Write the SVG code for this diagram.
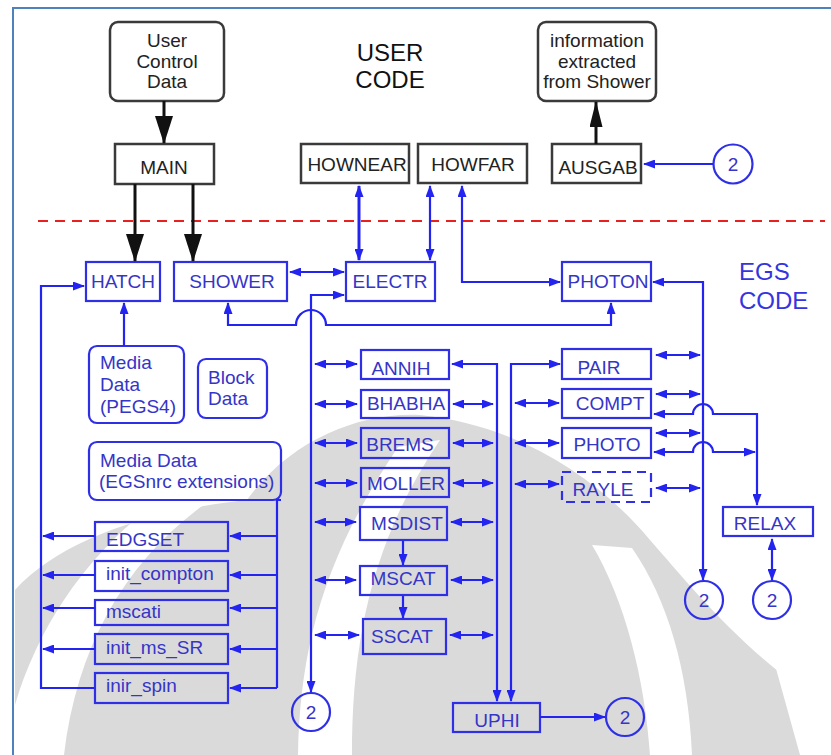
<svg xmlns="http://www.w3.org/2000/svg" width="831" height="755" viewBox="0 0 831 755">
<style>
  text { font-family: "Liberation Sans", Arial, sans-serif; font-size: 19px; }
  .kbox { fill: #fff; stroke: #3a3a3a; stroke-width: 2.5; }
  .ktxt { fill: #222; }
  .bbox { fill: none; stroke: #2f2fe6; stroke-width: 2.2; }
  .btxt { fill: #3535c8; }
  .mid { text-anchor: middle; }
  .ln { fill: none; stroke: #2424f0; stroke-width: 2.2; }
  .arr { marker-end: url(#ba); }
  .dbl { marker-start: url(#ba); marker-end: url(#ba); }
  .kln { fill: none; stroke: #111; stroke-width: 3; }
  .wm { fill: #dadada; }
  .wmw { fill: #fff; }
</style>
<defs>
  <marker id="ba" markerUnits="userSpaceOnUse" markerWidth="12" markerHeight="9" refX="11" refY="4.5" orient="auto-start-reverse">
    <path d="M0,0 L12,4.5 L0,9 z" fill="#2424f0"/>
  </marker>
  <marker id="ka" markerUnits="userSpaceOnUse" markerWidth="28" markerHeight="18" refX="27" refY="9" orient="auto">
    <path d="M0,0 L28,9 L0,18 z" fill="#111"/>
  </marker>
  <marker id="ka2" markerUnits="userSpaceOnUse" markerWidth="26" markerHeight="13" refX="25" refY="6.5" orient="auto">
    <path d="M0,0 L26,6.5 L0,13 z" fill="#111"/>
  </marker>
</defs>
<rect width="831" height="755" fill="#fff"/>
<!-- background watermark (approximate) -->
<g id="watermark">
  <path class="wm" d="M15,590 C60,540 150,510 247,500 C290,440 360,412 420,415 C520,425 600,480 650,540 C690,585 740,650 831,710 L831,755 L15,755 Z"/>
  <path class="wmw" d="M15,705 C40,620 95,540 185,482 L222,492 C130,552 78,640 64,755 L15,755 Z"/>
  <path class="wmw" d="M298,755 C300,650 322,560 398,447 L440,440 C372,540 352,640 352,755 Z"/>
  <path class="wmw" d="M592,545 C625,600 645,680 650,755 L692,755 C688,670 668,600 632,548 Z"/>
  <path class="wmw" d="M775,665 C800,690 820,700 831,705 L831,755 L800,755 Z"/>
</g>
<!-- frame -->
<path d="M13,755 V8 H831" fill="none" stroke="#4f81bd" stroke-width="2"/>
<!-- titles -->
<g id="user-code-title">
  <text x="390" y="61" class="mid" style="font-size:24px" fill="#111">USER</text>
  <text x="390" y="88" class="mid" style="font-size:24px" fill="#111">CODE</text>
</g>
<g id="egs-code-title">
  <text x="739" y="280" style="font-size:24px" fill="#3535e0">EGS</text>
  <text x="739" y="309" style="font-size:24px" fill="#3535e0">CODE</text>
</g>
<!-- divider -->
<line x1="38" y1="221" x2="825" y2="221" stroke="#e82020" stroke-width="2" stroke-dasharray="10 7"/>

<!-- user code nodes -->
<g id="user-control">
  <rect x="110" y="22" width="114" height="79" rx="8" class="kbox"/>
  <text x="167" y="47" class="ktxt mid">User</text>
  <text x="167" y="68" class="ktxt mid">Control</text>
  <text x="167" y="88" class="ktxt mid">Data</text>
</g>
<g id="main">
  <rect x="115" y="144" width="99" height="40" class="kbox"/>
  <text x="164" y="174" class="ktxt mid">MAIN</text>
</g>
<g id="hownear">
  <rect x="301" y="144" width="108" height="39" class="kbox"/>
  <text x="357" y="171" class="ktxt mid">HOWNEAR</text>
</g>
<g id="howfar">
  <rect x="418" y="144" width="109" height="39" class="kbox"/>
  <text x="473" y="171" class="ktxt mid">HOWFAR</text>
</g>
<g id="ausgab">
  <rect x="552" y="144" width="89" height="39" class="kbox"/>
  <text x="598" y="174" class="ktxt mid">AUSGAB</text>
</g>
<g id="info">
  <rect x="538" y="22" width="118" height="79" rx="8" class="kbox"/>
  <text x="597" y="47" class="ktxt mid">information</text>
  <text x="597" y="68" class="ktxt mid">extracted</text>
  <text x="597" y="88" class="ktxt mid">from Shower</text>
</g>

<!-- EGS nodes -->
<g id="hatch">
  <rect x="86" y="262" width="74" height="39" class="bbox"/>
  <text x="123" y="288" class="btxt mid">HATCH</text>
</g>
<g id="shower">
  <rect x="174" y="262" width="113" height="39" class="bbox"/>
  <text x="232" y="288" class="btxt mid">SHOWER</text>
</g>
<g id="electr">
  <rect x="346" y="262" width="89" height="39" class="bbox"/>
  <text x="390" y="288" class="btxt mid">ELECTR</text>
</g>
<g id="photon">
  <rect x="562" y="262" width="89" height="39" class="bbox"/>
  <text x="608" y="288" class="btxt mid">PHOTON</text>
</g>
<g id="media-pegs4">
  <rect x="89" y="346" width="95" height="77" rx="8" class="bbox"/>
  <text x="100" y="369" class="btxt">Media</text>
  <text x="100" y="391" class="btxt">Data</text>
  <text x="100" y="413" class="btxt">(PEGS4)</text>
</g>
<g id="block-data">
  <rect x="198" y="359" width="69" height="59" rx="8" class="bbox"/>
  <text x="208" y="384" class="btxt">Block</text>
  <text x="208" y="405" class="btxt">Data</text>
</g>
<g id="media-egsnrc">
  <rect x="89" y="442" width="192" height="58" rx="8" class="bbox"/>
  <text x="100" y="467" class="btxt">Media Data</text>
  <text x="99" y="488" class="btxt">(EGSnrc extensions)</text>
</g>
<g id="edgset">
  <rect x="95" y="522" width="133" height="29" class="bbox"/>
  <text x="106" y="546" class="btxt">EDGSET</text>
</g>
<g id="init-compton">
  <rect x="95" y="561" width="133" height="30" class="bbox"/>
  <text x="106" y="580" class="btxt">init_compton</text>
</g>
<g id="mscati">
  <rect x="95" y="600" width="133" height="25" class="bbox"/>
  <text x="106" y="618" class="btxt">mscati</text>
</g>
<g id="init-ms-sr">
  <rect x="95" y="634" width="133" height="30" class="bbox"/>
  <text x="106" y="654" class="btxt">init_ms_SR</text>
</g>
<g id="inir-spin">
  <rect x="95" y="673" width="133" height="30" class="bbox"/>
  <text x="106" y="692" class="btxt">inir_spin</text>
</g>
<g id="annih">
  <rect x="361" y="350" width="88" height="29" class="bbox"/>
  <text x="401" y="375" class="btxt mid">ANNIH</text>
</g>
<g id="bhabha">
  <rect x="361" y="390" width="88" height="28" class="bbox"/>
  <text x="406" y="410" class="btxt mid">BHABHA</text>
</g>
<g id="brems">
  <rect x="361" y="428" width="88" height="30" class="bbox"/>
  <text x="400" y="451" class="btxt mid">BREMS</text>
</g>
<g id="moller">
  <rect x="361" y="468" width="88" height="29" class="bbox"/>
  <text x="406" y="490" class="btxt mid">MOLLER</text>
</g>
<g id="msdist">
  <rect x="360" y="507" width="87" height="33" class="bbox"/>
  <text x="407" y="530" class="btxt mid">MSDIST</text>
</g>
<g id="mscat">
  <rect x="360" y="566" width="87" height="29" class="bbox"/>
  <text x="403" y="585" class="btxt mid">MSCAT</text>
</g>
<g id="sscat">
  <rect x="363" y="619" width="83" height="35" class="bbox"/>
  <text x="402" y="643" class="btxt mid">SSCAT</text>
</g>
<g id="uphi">
  <rect x="453" y="703" width="87" height="29" class="bbox"/>
  <text x="497" y="727" class="btxt mid">UPHI</text>
</g>
<g id="pair">
  <rect x="562" y="349" width="89" height="30" class="bbox"/>
  <text x="599" y="374" class="btxt mid">PAIR</text>
</g>
<g id="compt">
  <rect x="562" y="389" width="89" height="29" class="bbox"/>
  <text x="610" y="410" class="btxt mid">COMPT</text>
</g>
<g id="photo">
  <rect x="562" y="428" width="89" height="30" class="bbox"/>
  <text x="607" y="451" class="btxt mid">PHOTO</text>
</g>
<g id="rayle">
  <rect x="562" y="472" width="89" height="30" class="bbox" stroke-dasharray="9 6"/>
  <text x="603" y="496" class="btxt mid">RAYLE</text>
</g>
<g id="relax">
  <rect x="723" y="507" width="90" height="29" class="bbox"/>
  <text x="765" y="530" class="btxt mid">RELAX</text>
</g>
<g id="c-ausgab">
  <circle cx="733" cy="164" r="19.5" class="bbox"/>
  <text x="733" y="171" class="btxt mid">2</text>
</g>
<g id="c-electr">
  <circle cx="311" cy="712" r="19" class="bbox"/>
  <text x="311" y="719" class="btxt mid">2</text>
</g>
<g id="c-uphi">
  <circle cx="625" cy="717" r="19" class="bbox"/>
  <text x="625" y="724" class="btxt mid">2</text>
</g>
<g id="c-photon">
  <circle cx="704" cy="600" r="19" class="bbox"/>
  <text x="704" y="607" class="btxt mid">2</text>
</g>
<g id="c-relax">
  <circle cx="772" cy="600" r="19" class="bbox"/>
  <text x="772" y="607" class="btxt mid">2</text>
</g>

<!-- connectors -->
<g id="connectors">
  <path class="kln" d="M164,101 V143" marker-end="url(#ka)"/>
  <path class="kln" d="M135,184 V261" marker-end="url(#ka)"/>
  <path class="kln" d="M193,184 V261" marker-end="url(#ka)"/>
  <path class="kln" d="M596,144 V102" marker-end="url(#ka2)"/>
  <path class="ln arr" d="M713,164 H644"/>
  <path class="ln dbl" d="M359,186 V260" style="stroke-width:3"/>
  <path class="ln dbl" d="M430,186 V260"/>
  <path class="ln dbl" d="M462,186 V282 H560"/>
  <path class="ln dbl" d="M290,272 H344"/>
  <path class="ln dbl" d="M311,692 V295 H344"/>
  <path class="ln dbl" d="M228,303 V325 H296 A15,15 0 0 1 326,325 H611 V303"/>
  <path class="ln dbl" d="M703,580 V282 H653"/>
  <path class="ln arr" d="M94,688 H41 V286 H84"/>
  <path class="ln arr" d="M124,346 V303"/>
  <path class="ln" d="M281,500 H277 V688"/>
  <path class="ln arr" d="M277,536 H230"/>
  <path class="ln arr" d="M277,575 H230"/>
  <path class="ln arr" d="M277,608 H230"/>
  <path class="ln arr" d="M277,649 H230"/>
  <path class="ln arr" d="M277,688 H230"/>
  <path class="ln arr" d="M95,536 H43"/>
  <path class="ln arr" d="M95,575 H43"/>
  <path class="ln arr" d="M95,608 H43"/>
  <path class="ln arr" d="M95,649 H43"/>
  <path class="ln dbl" d="M315,364 H357"/>
  <path class="ln dbl" d="M315,404 H357"/>
  <path class="ln dbl" d="M315,443 H357"/>
  <path class="ln dbl" d="M315,483 H357"/>
  <path class="ln dbl" d="M315,522 H356"/>
  <path class="ln dbl" d="M315,580 H356"/>
  <path class="ln dbl" d="M315,635 H359"/>
  <path class="ln dbl" d="M452,364 H497 V701"/>
  <path class="ln dbl" d="M453,404 H493"/>
  <path class="ln dbl" d="M453,443 H493"/>
  <path class="ln dbl" d="M453,483 H493"/>
  <path class="ln dbl" d="M451,522 H493"/>
  <path class="ln dbl" d="M451,580 H493"/>
  <path class="ln dbl" d="M450,635 H493"/>
  <path class="ln dbl" d="M511,701 V364 H560"/>
  <path class="ln dbl" d="M515,403 H559"/>
  <path class="ln dbl" d="M515,443 H559"/>
  <path class="ln dbl" d="M515,484 H559"/>
  <path class="ln arr" d="M403,541 V565"/>
  <path class="ln arr" d="M403,596 V618"/>
  <path class="ln arr" d="M540,717 H605"/>
  <path class="ln dbl" d="M656,355 H700"/>
  <path class="ln dbl" d="M656,394 H700"/>
  <path class="ln dbl" d="M656,433 H700"/>
  <path class="ln dbl" d="M656,488 H700"/>
  <path class="ln dbl" d="M654,414 H693 A10,10 0 0 1 713,414 H757 V505"/>
  <path class="ln dbl" d="M654,452 H693 A10,10 0 0 1 713,452 H755"/>
  <path class="ln dbl" d="M772,539 V580"/>
</g>
</svg>
